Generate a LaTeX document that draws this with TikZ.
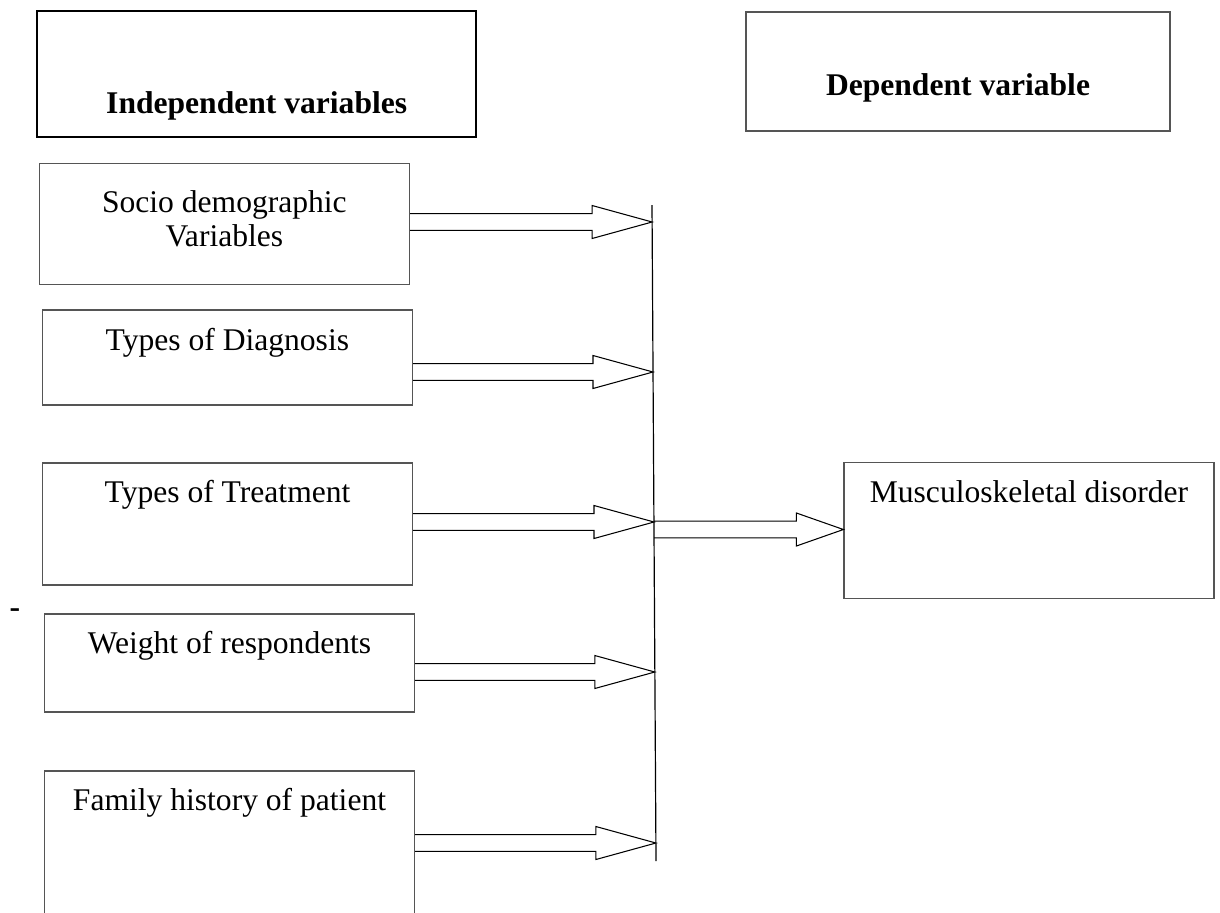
\documentclass[tikz,border=0pt]{standalone}
\usepackage{fontspec}
\setmainfont{Liberation Serif}
\usetikzlibrary{calc,positioning}
\definecolor{Ink}{HTML}{000000}
\definecolor{Frame}{HTML}{555555}
\newdimen\px \px=0.38pt
\tikzset{varbox/.style={rectangle,draw=Frame,line width=0.45pt,inner sep=0pt,anchor=base,align=center,text=Ink,minimum width=370\px},headbox/.style={varbox,font=\fontsize{12}{13}\selectfont\bfseries},blockarrow/.style={draw=Ink,line width=0.4pt,to path={($(\tikztostart)+(0,-8.3)$) -- ($(\tikztotarget)+(-#1,-8.3)$) -- ($(\tikztotarget)+(-#1,-16.5)$) -- (\tikztotarget) -- ($(\tikztotarget)+(-#1,16.5)$) -- ($(\tikztotarget)+(-#1,8.3)$) -- ($(\tikztostart)+(0,8.3)$)}},blockarrow/.default=60}
\begin{document}
\begin{tikzpicture}[x=0.38pt,y=-0.38pt,font=\fontsize{12}{13}\selectfont]
\fill[white] (0,0) rectangle (1220,912);
\clip (0,0) rectangle (1220,912);
\node[headbox,draw=Ink,line width=0.75pt,minimum width=439\px,text height=102\px,text depth=24\px] (indep) at (256.7,113) {Independent variables};
\node[headbox,minimum width=424\px,text height=83\px,text depth=36\px] (dep) at (958,95) {Dependent variable};
\node[varbox,text height=83\px,text depth=38\px] (socio) at (224.4,246.7) {Socio demographic\\Variables};
\node[varbox,text height=40\px,text depth=55\px] (diag) at (227.4,350) {Types of Diagnosis};
\node[varbox,text height=39\px,text depth=83\px] (treat) at (227.5,502) {Types of Treatment};
\node[varbox,text height=39\px,text depth=59\px] (weight) at (229.5,653) {Weight of respondents};
\node[varbox,text height=39\px,text depth=115\px] (family) at (229.5,810) {Family history of patient};
\node[varbox,text height=40\px,text depth=96\px] (musc) at (1029,502.7) {Musculoskeletal disorder};
\node[anchor=base,font=\fontsize{12}{13}\selectfont\bfseries,text=Ink] (dash) at (15,617) {-};
\coordinate (vtop) at (652,205);
\coordinate (vbot) at (656,861);
\coordinate (t1) at (652.1,222);
\coordinate (t2) at (653,372);
\coordinate (t3) at (654,522);
\coordinate (t4) at (654.8,672);
\coordinate (t5) at (655.9,843);
\coordinate (m0) at (654.2,529.5);
\draw[Ink,line width=0.45pt] (vtop) -- (vbot);
\draw (socio.east |- t1) to[blockarrow] (t1);
\draw (diag.east |- t2) to[blockarrow] (t2);
\draw (treat.east |- t3) to[blockarrow] (t3);
\draw (weight.east |- t4) to[blockarrow] (t4);
\draw (family.east |- t5) to[blockarrow] (t5);
\draw (m0) to[blockarrow=47] (musc.west |- m0);
\end{tikzpicture}
\end{document}
